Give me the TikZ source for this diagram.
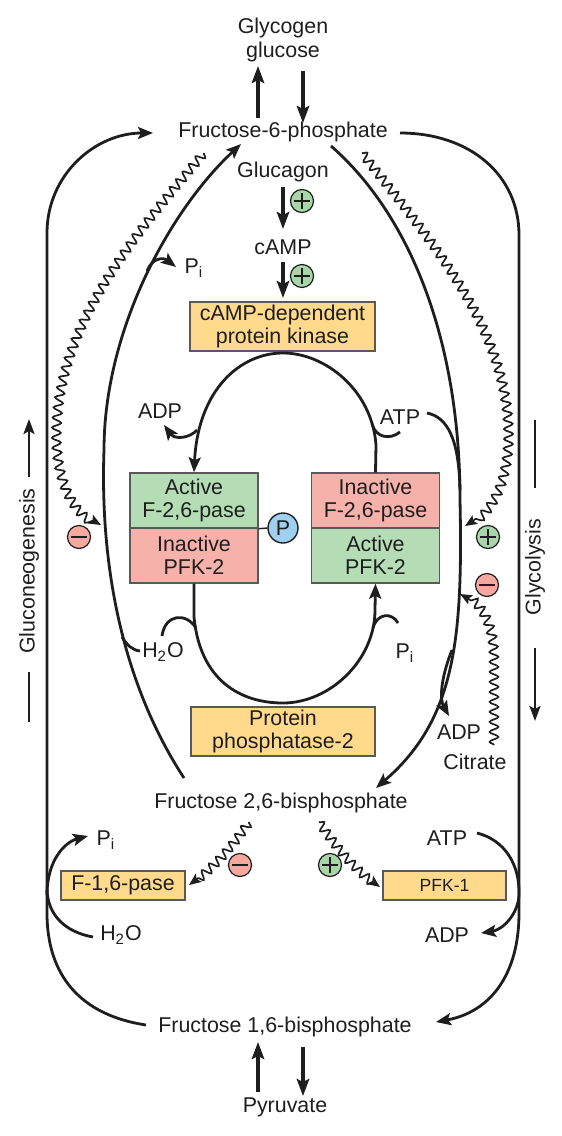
\documentclass[tikz,border=0pt]{standalone}
\usepackage{fontspec}
\setmainfont{Liberation Sans}
\usetikzlibrary{arrows.meta,decorations.pathmorphing}
\definecolor{boxorange}{RGB}{255,217,140}
\definecolor{boxgreen}{RGB}{180,221,182}
\definecolor{boxred}{RGB}{246,178,170}
\definecolor{pblue}{RGB}{160,208,240}
\definecolor{plusgreen}{RGB}{168,214,168}
\definecolor{minusred}{RGB}{244,168,160}
\definecolor{ink}{RGB}{30,30,30}
\begin{document}
\begin{tikzpicture}[x=0.5pt,y=-0.5pt,
 every node/.style={font=\fontsize{10.7}{11.6}\selectfont, text=ink, align=center, inner sep=0pt},
 flow/.style={line width=1.4pt, draw=ink},
 arr/.style={flow, -{Stealth[length=7.5pt,width=6pt,inset=1.5pt]}},
 straight/.style={line width=1.65pt, draw=ink, -{Stealth[length=8.5pt,width=6.2pt,inset=1.5pt]}},
 side/.style={line width=1.3pt, draw=ink, -{Stealth[length=7.5pt,width=5.5pt,inset=1.5pt]}},
 bar/.style={line width=1.3pt, draw=ink},
 wave/.style={line width=0.85pt, draw=ink, decorate, decoration={snake, amplitude=2.2pt, segment length=5pt, post length=4pt}},
 warr/.style={wave, -{Stealth[length=6pt,width=5pt,inset=1.2pt]}},
 enz/.style={draw=black!65, line width=0.7pt, fill=boxorange},
 half/.style={draw=black!65, line width=0.7pt, minimum width=64pt, minimum height=27.5pt},
 signbase/.style={circle, draw=ink, line width=0.6pt, minimum size=11.5pt},
 plus/.style={signbase, fill=plusgreen, path picture={\draw[line width=0.6pt] ([xshift=-3.8pt]path picture bounding box.center) -- ([xshift=3.8pt]path picture bounding box.center) ([yshift=-3.8pt]path picture bounding box.center) -- ([yshift=3.8pt]path picture bounding box.center);}},
 minus/.style={signbase, fill=minusred, path picture={\draw[line width=0.6pt] ([xshift=-3.8pt]path picture bounding box.center) -- ([xshift=3.8pt]path picture bounding box.center);}},
]
\useasboundingbox (0,0) rectangle (562,1136);

% ---- text nodes
\node (glyc) at (283,40) {Glycogen\\glucose};
\node (f6p) at (283,132) {Fructose-6-phosphate};
\node (glucagon) at (283,172) {Glucagon};
\node (camp) at (283,247) {cAMP};
\node[enz, minimum width=92.5pt, minimum height=24.5pt] (pka) at (282.5,326.5) {cAMP-dependent\\protein kinase};
\node (adp1) at (160,411) {ADP};
\node (atp1) at (400,417) {ATP};
\node (pi1) at (194,268) {P\textsubscript{i}};
\node[half, fill=boxgreen] (lt) at (194,500.5) {Active\\F-2,6-pase};
\node[half, fill=boxred] (lb) at (194,555.5) {Inactive\\PFK-2};
\node[half, fill=boxred] (rt) at (375.5,500.5) {Inactive\\F-2,6-pase};
\node[half, fill=boxgreen] (rb) at (375.5,555.5) {Active\\PFK-2};
\node[circle, draw=ink, line width=0.7pt, fill=pblue, minimum size=15pt] (P) at (283,528) {P};
\node (h2o1) at (163,652) {H\textsubscript{2}O};
\node (pi2) at (405,653) {P\textsubscript{i}};
\node[enz, minimum width=92pt, minimum height=24.5pt] (pp2) at (283,731.5) {Protein\\phosphatase-2};
\node (adp2) at (459,732) {ADP};
\node (citrate) at (475,762) {Citrate};
\node (f26bp) at (281,803) {Fructose 2,6-bisphosphate};
\node (pi3) at (106,840) {P\textsubscript{i}};
\node (atp2) at (447,838) {ATP};
\node[enz, minimum width=62pt, minimum height=14.5pt] (f16pase) at (123,885.5) {F-1,6-pase};
\node[enz, minimum width=61.5pt, minimum height=14.5pt, font=\fontsize{8.8}{10}\selectfont] (pfk1) at (444.5,885.5) {PFK-1};
\node (h2o2) at (121,935) {H\textsubscript{2}O};
\node (adp3) at (447,935) {ADP};
\node (f16bp) at (285,1027) {Fructose 1,6-bisphosphate};
\node (pyr) at (285,1107) {Pyruvate};
\node[rotate=90] (gng) at (29,571) {Gluconeogenesis};
\node[rotate=90] (gly) at (535,567) {Glycolysis};

% ---- signs
\node[plus] (s1) at (302,201) {};
\node[plus] (s2) at (302,276) {};
\node[minus] (s3) at (79,537) {};
\node[plus] (s4) at (488,537) {};
\node[minus] (s5) at (487,585) {};
\node[minus] (s6) at (240,865) {};
\node[plus] (s7) at (330,865) {};

% ---- connector P
\draw[line width=0.7pt, draw=ink] (lt.south east) -- (P.west);

% ---- straight arrows
\draw[straight] (258,118) -- (258,66);
\draw[straight] (303,71) -- (303,123);
\draw[straight] (283,187) -- (283,229);
\draw[straight] (283,262) -- (283,298);
\draw[straight] (258,1092) -- (258,1042);
\draw[straight] (303,1047) -- (303,1096);
\draw[side] (29,477) -- (29,419);
\draw[bar] (29,672) -- (29,722);
\draw[bar] (535,420) -- (535,488);
\draw[side] (535,648) -- (535,721);

% ---- outer loops
\draw[arr] (146,1025) .. controls (80,1015) and (47,975) .. (47,913) -- (47,233) .. controls (47,175) and (95,133) .. (153,133);
\draw[arr] (400,133) .. controls (470,133) and (519,175) .. (519,235) -- (519,913) .. controls (519,975) and (490,1012) .. (436,1022);

% ---- inner arcs
\draw[arr] (184,778) .. controls (120,680) and (100,560) .. (104,450) .. controls (104,330) and (170,210) .. (241,144);
\draw[arr] (331,146) .. controls (410,215) and (460,340) .. (460,500) .. controls (463,640) and (455,720) .. (376,788);
\draw[arr] (147,271) .. controls (152,258) and (163,257) .. (176,267);
\draw[flow] (122,637) .. controls (127,645) and (132,650) .. (140,651);
\draw[flow] (427,413) .. controls (447,417) and (459,438) .. (460,490);
\draw[arr] (452,650) .. controls (440,680) and (440,700) .. (449,716);

% ---- kinase loop
\draw[arr] (rt.north) -- (376,445) .. controls (372,390) and (325,353) .. (283,353) .. controls (240,353) and (198,390) .. (lt.north);
\draw[arr] (197,430) .. controls (190,438) and (175,440) .. (164,425);
\draw[flow] (400,432) .. controls (390,440) and (376,438) .. (372,424);

% ---- phosphatase loop
\draw[arr] (lb.south) -- (194,617) .. controls (200,680) and (240,703) .. (283,703) .. controls (330,703) and (375,660) .. (375,610) -- (rb.south);
\draw[flow] (162,636) .. controls (165,614) and (186,612) .. (196,628);
\draw[flow] (398,623) .. controls (392,612) and (377,613) .. (373,628);

% ---- bottom hooks
\draw[arr] (47,895) .. controls (47,860) and (65,842) .. (88,836);
\draw[flow] (93,937) .. controls (65,932) and (48,915) .. (47,890);
\draw[arr] (477,833) .. controls (505,840) and (520,865) .. (519,895) .. controls (518,915) and (502,930) .. (481,933);

% ---- wavy effectors
\draw[warr] (204,153) .. controls (130,240) and (55,330) .. (58,440) .. controls (60,490) and (80,515) .. (101,525);
\draw[warr] (362,153) .. controls (430,240) and (510,330) .. (507,440) .. controls (505,490) and (485,515) .. (465,526);
\draw[warr] (494,745) -- (494,660) .. controls (494,625) and (480,603) .. (460,594);
\draw[warr] (249,822) .. controls (230,850) and (210,870) .. (189,885);
\draw[warr] (319,822) .. controls (338,850) and (358,872) .. (380,887);
\end{tikzpicture}
\end{document}
